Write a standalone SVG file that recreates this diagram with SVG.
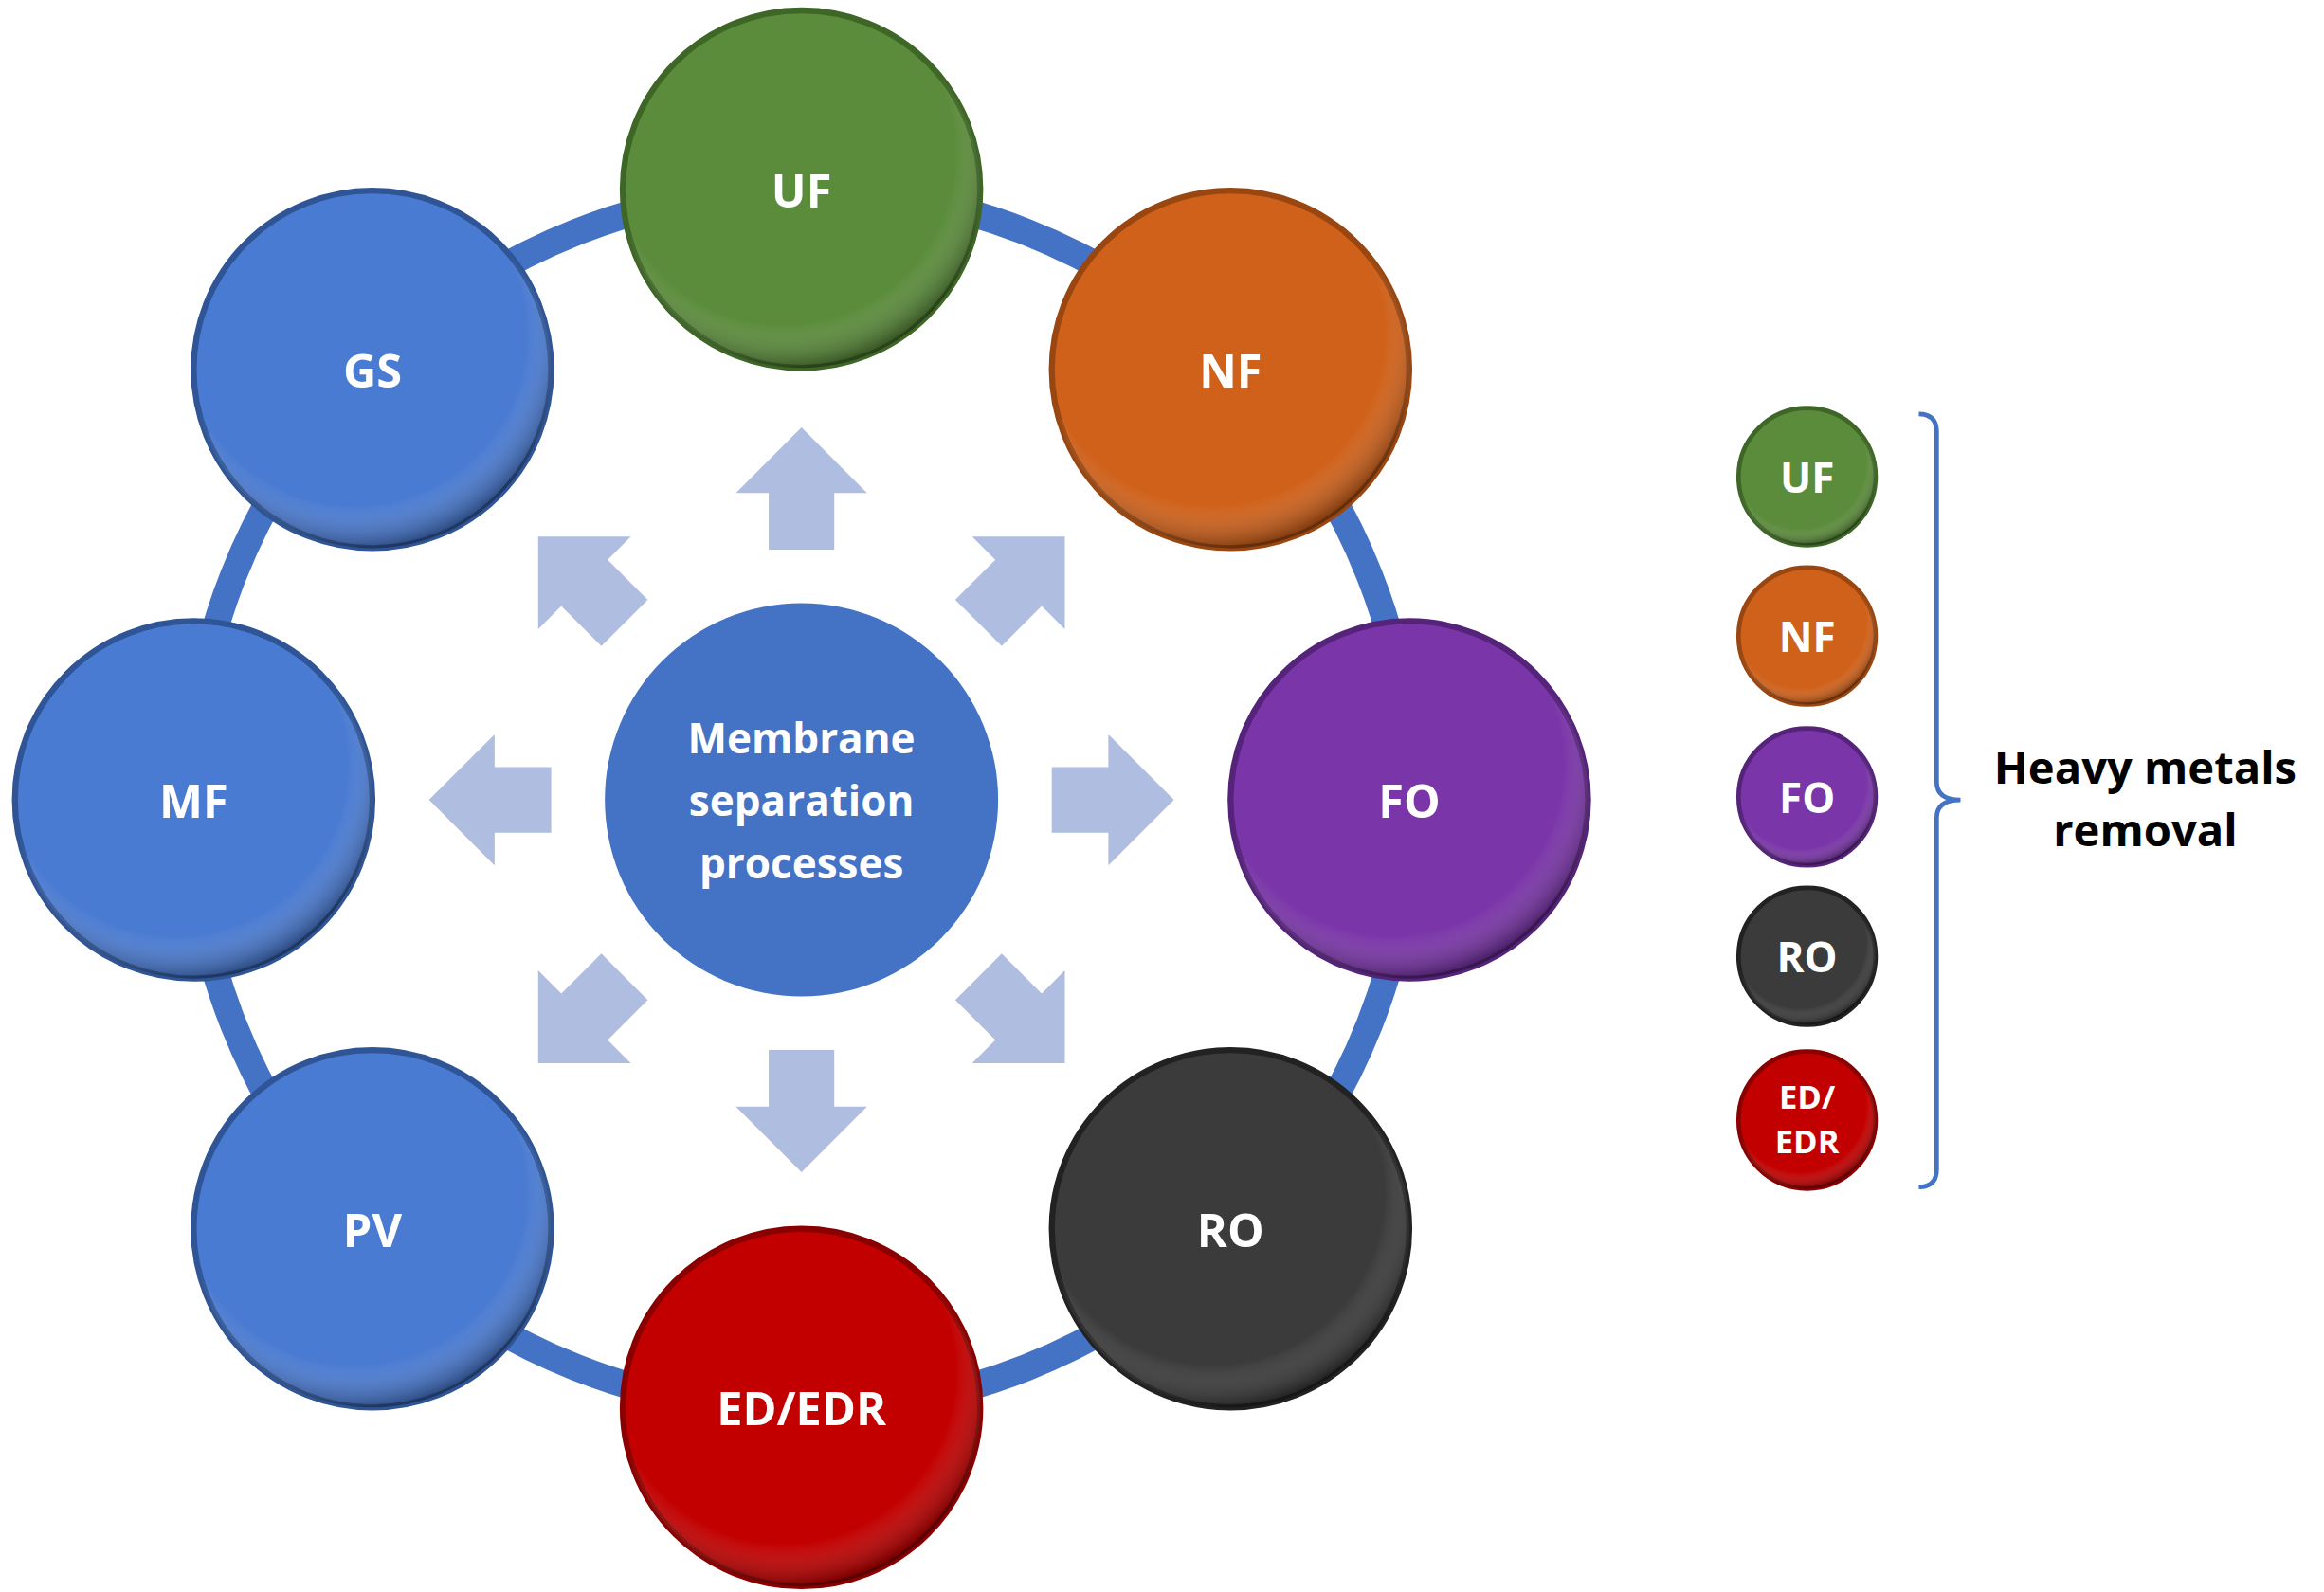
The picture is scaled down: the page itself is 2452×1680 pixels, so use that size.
<svg xmlns="http://www.w3.org/2000/svg" width="2452" height="1680" viewBox="0 0 2452 1680">
<style>
.lbl{font-family:"Open Sans","Liberation Sans",sans-serif;font-weight:bold;fill:#fff;text-anchor:middle;dominant-baseline:central}
.node{stroke-width:4}
.arr{fill:#aebde0}
</style>
<defs>
<radialGradient id="sh" cx="0.45" cy="0.4" r="0.6">
<stop offset="0.8" stop-color="#fff" stop-opacity="0"/>
<stop offset="1" stop-color="#000" stop-opacity="0.35"/>
</radialGradient>
<path id="ar" d="M0,-250 L44,-206 L22,-206 L22,-168 L-22,-168 L-22,-206 L-44,-206 Z"/>
</defs>
<rect width="2452" height="1680" fill="#fff"/>
<g transform="scale(1.5718)">
<g id="connectors">
<circle cx="538" cy="537" r="410" fill="none" stroke="#4472c4" stroke-width="18"/>
<g transform="translate(538,537)" class="arr">
<use href="#ar"/>
<use href="#ar" transform="rotate(45)"/>
<use href="#ar" transform="rotate(90)"/>
<use href="#ar" transform="rotate(135)"/>
<use href="#ar" transform="rotate(180)"/>
<use href="#ar" transform="rotate(225)"/>
<use href="#ar" transform="rotate(270)"/>
<use href="#ar" transform="rotate(315)"/>
</g>
<path d="M1288,278 Q1300,278 1300,290 L1300,525 Q1300,537 1316,537 Q1300,537 1300,549 L1300,785 Q1300,797 1288,797" fill="none" stroke="#4472c4" stroke-width="3"/>
</g>
<g id="center"><circle cx="538" cy="537" r="132" fill="#4472c4"/>
<text class="lbl" x="538" y="495" font-size="28">Membrane</text>
<text class="lbl" x="538" y="537" font-size="28">separation</text>
<text class="lbl" x="538" y="579" font-size="28">processes</text></g>
<g id="UF"><circle cx="538" cy="127" r="120" fill="#5b8c3b" stroke="#3e6626" class="node"/><circle cx="538" cy="127" r="120" fill="url(#sh)"/><text class="lbl" x="538" y="127" font-size="31">UF</text></g>
<g id="NF"><circle cx="826" cy="248" r="120" fill="#d0611a" stroke="#9a4610" class="node"/><circle cx="826" cy="248" r="120" fill="url(#sh)"/><text class="lbl" x="826" y="248" font-size="31">NF</text></g>
<g id="FO"><circle cx="946" cy="537" r="120" fill="#7a35a8" stroke="#55237a" class="node"/><circle cx="946" cy="537" r="120" fill="url(#sh)"/><text class="lbl" x="946" y="537" font-size="31">FO</text></g>
<g id="RO"><circle cx="826" cy="825" r="120" fill="#3b3b3b" stroke="#222" class="node"/><circle cx="826" cy="825" r="120" fill="url(#sh)"/><text class="lbl" x="826" y="825" font-size="31">RO</text></g>
<g id="EDR"><circle cx="538" cy="945" r="120" fill="#c20000" stroke="#8a0000" class="node"/><circle cx="538" cy="945" r="120" fill="url(#sh)"/><text class="lbl" x="538" y="945" font-size="31">ED/EDR</text></g>
<g id="PV"><circle cx="250" cy="825" r="120" fill="#4a7bd2" stroke="#2f5597" class="node"/><circle cx="250" cy="825" r="120" fill="url(#sh)"/><text class="lbl" x="250" y="825" font-size="31">PV</text></g>
<g id="MF"><circle cx="130" cy="537" r="120" fill="#4a7bd2" stroke="#2f5597" class="node"/><circle cx="130" cy="537" r="120" fill="url(#sh)"/><text class="lbl" x="130" y="537" font-size="31">MF</text></g>
<g id="GS"><circle cx="250" cy="248" r="120" fill="#4a7bd2" stroke="#2f5597" class="node"/><circle cx="250" cy="248" r="120" fill="url(#sh)"/><text class="lbl" x="250" y="248" font-size="31">GS</text></g>
<g id="legend">
<circle cx="1213" cy="320" r="46" fill="#5b8c3b" stroke="#3e6626" stroke-width="3"/><circle cx="1213" cy="320" r="46" fill="url(#sh)"/><text class="lbl" x="1213" y="320" font-size="28">UF</text>
<circle cx="1213" cy="427" r="46" fill="#d0611a" stroke="#9a4610" stroke-width="3"/><circle cx="1213" cy="427" r="46" fill="url(#sh)"/><text class="lbl" x="1213" y="427" font-size="28">NF</text>
<circle cx="1213" cy="535" r="46" fill="#7a35a8" stroke="#55237a" stroke-width="3"/><circle cx="1213" cy="535" r="46" fill="url(#sh)"/><text class="lbl" x="1213" y="535" font-size="28">FO</text>
<circle cx="1213" cy="642" r="46" fill="#3b3b3b" stroke="#222" stroke-width="3"/><circle cx="1213" cy="642" r="46" fill="url(#sh)"/><text class="lbl" x="1213" y="642" font-size="28">RO</text>
<circle cx="1213" cy="752" r="46" fill="#c20000" stroke="#8a0000" stroke-width="3"/><circle cx="1213" cy="752" r="46" fill="url(#sh)"/><text class="lbl" x="1213" y="736" font-size="22">ED/</text><text class="lbl" x="1213" y="766" font-size="22">EDR</text>
<text x="1440" y="515" font-size="30" font-family="Open Sans,Liberation Sans,sans-serif" font-weight="bold" text-anchor="middle" dominant-baseline="central">Heavy metals</text>
<text x="1440" y="557" font-size="30" font-family="Open Sans,Liberation Sans,sans-serif" font-weight="bold" text-anchor="middle" dominant-baseline="central">removal</text>
</g>
</g>
</svg>
